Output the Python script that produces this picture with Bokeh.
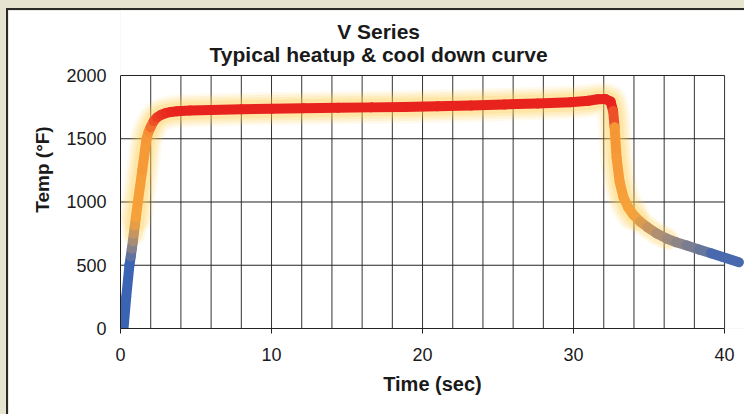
import numpy as np
from bokeh.plotting import figure
from bokeh.models import Range1d, Label, FixedTicker
from bokeh.embed import file_html
from bokeh.resources import INLINE

# ---- data ----
time_s = [0.2, 0.38, 0.59, 0.68, 0.75, 0.82, 0.88, 0.95, 1.02, 1.15, 1.44, 1.72,
          1.86, 1.99, 2.2, 2.43, 2.7, 2.98, 3.35, 3.75, 4.6, 6.0, 8.0, 10.0, 12.1,
          14.4, 16.6, 18.8, 21.0, 23.2, 25.4, 27.6, 29.8, 31.0, 31.6, 32.1, 32.45,
          32.62, 32.72, 32.85, 33.05, 33.3, 33.6, 33.95, 34.4, 34.9, 35.5, 36.2,
          36.8, 37.5, 38.3, 39.1, 40.95]
temp_f = [0, 250, 500, 570, 630, 690, 750, 815, 880, 1000, 1250, 1500,
          1555, 1590, 1640, 1670, 1690, 1702, 1712, 1718, 1724, 1728, 1733, 1737, 1741,
          1745, 1748, 1751, 1756, 1763, 1771, 1779, 1789, 1800, 1812, 1815, 1795,
          1720, 1590, 1350, 1160, 1040, 960, 900, 845, 800, 752, 709,
          682, 656, 625, 595, 524]

x_ticks = [0, 10, 20, 30, 40]
y_ticks = [0, 500, 1000, 1500, 2000]
x_grid = [2, 4, 6, 8, 10, 12, 14, 16, 18, 20, 22, 24, 26, 28, 30, 32, 34, 36, 38, 40]
y_grid = [500, 1000, 1500, 2000]

title_1 = "V Series"
title_2 = "Typical heatup & cool down curve"
x_label = "Time (sec)"
y_label = "Temp (°F)"

# ---- colour along the curve (by temperature) ----
stops_t = [0, 540, 700, 880, 1560, 1720, 2100]
stops_c = [(58, 99, 181), (60, 101, 180), (160, 140, 125), (246, 163, 58),
           (246, 150, 54), (232, 35, 30), (232, 35, 30)]


def temp_color(t):
    r = np.interp(t, stops_t, [c[0] for c in stops_c])
    g = np.interp(t, stops_t, [c[1] for c in stops_c])
    b = np.interp(t, stops_t, [c[2] for c in stops_c])
    return "#%02x%02x%02x" % (int(r), int(g), int(b))


xs = np.array(time_s)
ys = np.array(temp_f)
seg_col = [temp_color((ys[i] + ys[i + 1]) / 2) for i in range(len(ys) - 1)]

FONT = "Liberation Sans"
W, H = 736, 404
# frame spans canvas y 0..318 ; value 2000 sits 65px below the canvas top
p = figure(width=W, height=H, output_backend="svg", toolbar_location=None,
           x_range=Range1d(0, 41.32), y_range=Range1d(0, 2513.8),
           min_border_left=112, min_border_right=0,
           min_border_top=0, min_border_bottom=86,
           background_fill_color="white", border_fill_color="white")
p.outline_line_color = None
p.xgrid.visible = False
p.ygrid.visible = False

# grid
p.segment(x0=x_grid, y0=[0] * len(x_grid), x1=x_grid, y1=[2000] * len(x_grid),
          line_color="#333333", line_width=1)
p.segment(x0=[0] * len(y_grid), y0=y_grid, x1=[40] * len(y_grid), y1=y_grid,
          line_color="#222222", line_width=1)

# glow
mask_wide = ys >= 850
mask_narrow = ys >= 700
for w, a, m in [(33, 0.10, mask_wide), (28, 0.13, mask_wide),
                (23, 0.16, mask_narrow), (18, 0.2, mask_narrow)]:
    p.line(xs[m], ys[m], line_color="#ffcb45", line_alpha=a, line_width=w,
           line_join="round", line_cap="round")

# coloured curve
p.segment(x0=xs[:-1], y0=ys[:-1], x1=xs[1:], y1=ys[1:], line_color=seg_col,
          line_width=10, line_cap="round")

# axes
p.xaxis.ticker = FixedTicker(ticks=x_ticks)
p.xaxis.bounds = (0, 40)
p.xaxis.minor_tick_line_color = None
p.xaxis.major_tick_out = 5
p.xaxis.major_tick_in = 0
p.xaxis.major_label_standoff = 14
p.xaxis.axis_line_color = "#222222"
p.xaxis.major_tick_line_color = "#222222"

p.yaxis.ticker = FixedTicker(ticks=y_ticks)
p.yaxis.bounds = (0, 2000)
p.yaxis.minor_tick_line_color = None
p.yaxis.major_tick_out = 0
p.yaxis.major_tick_in = 0
p.yaxis.major_label_standoff = 14
p.yaxis.axis_line_color = "#222222"

for ax in (p.xaxis, p.yaxis):
    ax.major_label_text_font = FONT
    ax.major_label_text_font_size = "18px"
    ax.major_label_text_color = "#1a1a1a"
    ax.axis_label_text_font = FONT
    ax.axis_label_text_font_style = "bold"
    ax.axis_label_text_color = "#1a1a1a"

p.xaxis.axis_label = x_label
p.xaxis.axis_label_text_font_size = "20px"
p.xaxis.axis_label_standoff = 9
p.yaxis.axis_label = y_label
p.yaxis.axis_label_text_font_size = "19px"
p.yaxis.axis_label_standoff = 10

for txt, yy in [(title_1, 2348), (title_2, 2166)]:
    p.add_layout(Label(x=17.09, y=yy, text=txt, text_align="center",
                       text_baseline="middle", text_font=FONT,
                       text_font_size="21px", text_font_style="bold",
                       text_color="#1a1a1a"))

page_css = (
    "<style>"
    "html { background: "
    "linear-gradient(#2a2a2a, #2a2a2a) 6px 8px / 2px 100% no-repeat, "
    "linear-gradient(#2a2a2a, #2a2a2a) 6px 8px / 100% 2px no-repeat, "
    "#e6e3d1; }"
    "body { background: transparent !important; "
    "padding: 10px 0 0 8px !important; }"
    "</style></head>"
)
html = file_html(p, INLINE)
html = html.replace("</head>", page_css, 1)
open("out.html", "w").write(html)
